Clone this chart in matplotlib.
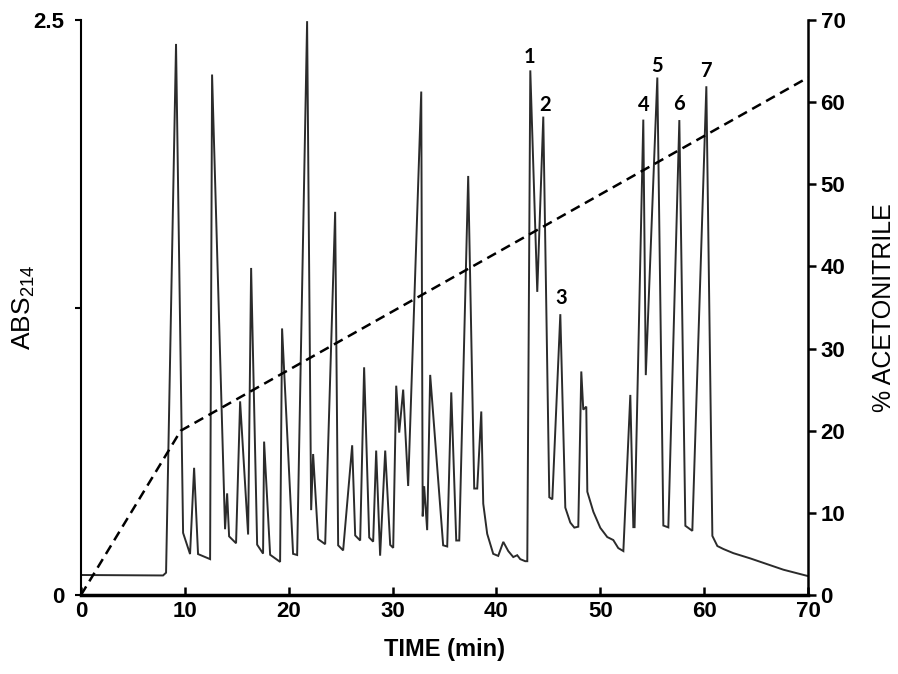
import matplotlib
matplotlib.use('Agg')
import matplotlib.pyplot as plt

plt.rcParams['font.family'] = ['Liberation Sans', 'DejaVu Sans']
plt.rcParams['mathtext.fontset'] = 'custom'
plt.rcParams['mathtext.rm'] = 'Liberation Sans'

# chromatogram trace (absorbance at 214 nm)
time_min = [0.00, 7.90, 8.19, 9.15, 9.83, 10.50, 10.89, 11.27, 12.43, 12.62,
            13.87, 14.07, 14.26, 14.93, 15.32, 16.09, 16.38, 16.96, 17.53, 17.63,
            18.21, 19.17, 19.36, 20.42, 20.81, 21.77, 22.16, 22.35, 22.83, 23.51,
            24.47, 24.76, 25.24, 26.11, 26.40, 26.88, 27.26, 27.75, 28.13, 28.42,
            28.80, 29.29, 29.77, 30.06, 30.35, 30.64, 31.02, 31.50, 32.76, 32.90,
            33.04, 33.33, 33.62, 34.87, 35.26, 35.65, 36.13, 36.42, 37.28, 37.86,
            38.15, 38.54, 38.73, 39.11, 39.69, 40.17, 40.66, 41.14, 41.62, 42.00,
            42.29, 42.77, 42.97, 43.26, 43.93, 44.51, 45.09, 45.38, 46.15, 46.63,
            47.11, 47.50, 47.88, 48.17, 48.36, 48.65, 48.75, 49.33, 50.00, 50.67,
            51.25, 51.73, 52.22, 52.89, 53.18, 53.30, 54.14, 54.38, 55.49, 56.07,
            56.55, 57.61, 58.19, 58.86, 60.21, 60.79, 61.27, 61.85, 62.81, 64.45,
            67.63, 69.94]
abs_214 = [0.087, 0.085, 0.097, 2.396, 0.270, 0.178, 0.553, 0.178, 0.156, 2.263,
           0.286, 0.442, 0.255, 0.225, 0.842, 0.263, 1.422, 0.219, 0.180, 0.667,
           0.175, 0.144, 1.159, 0.179, 0.174, 2.495, 0.369, 0.613, 0.243, 0.221,
           1.666, 0.216, 0.194, 0.651, 0.259, 0.237, 0.990, 0.250, 0.232, 0.628,
           0.171, 0.628, 0.218, 0.205, 0.910, 0.706, 0.893, 0.474, 2.189, 0.342,
           0.473, 0.282, 0.957, 0.216, 0.211, 0.881, 0.237, 0.237, 1.822, 0.463,
           0.463, 0.798, 0.397, 0.266, 0.179, 0.170, 0.231, 0.191, 0.165, 0.173,
           0.156, 0.147, 0.147, 2.281, 1.318, 2.080, 0.425, 0.416, 1.221, 0.380,
           0.315, 0.293, 0.297, 0.972, 0.806, 0.819, 0.449, 0.362, 0.292, 0.252,
           0.239, 0.204, 0.191, 0.870, 0.295, 0.295, 2.067, 0.956, 2.250, 0.302,
           0.294, 2.065, 0.301, 0.279, 2.212, 0.257, 0.213, 0.200, 0.182, 0.159,
           0.110, 0.083]

# acetonitrile gradient (right axis)
grad_time = [0, 9.6, 70]
grad_pct = [0, 20, 63]

# numbered peaks
peak_ids = ['1', '2', '3', '4', '5', '6', '7']
peak_t = [43.2, 44.7, 46.2, 54.2, 55.5, 57.6, 60.2]
peak_y = [2.34, 2.13, 1.29, 2.13, 2.30, 2.135, 2.28]

fig = plt.figure(figsize=(8.98, 6.74), dpi=100)
ax = fig.add_axes([0.0902, 0.1172, 0.8096, 0.8531])
ax2 = ax.twinx()

ax.plot(time_min, abs_214, color='#2b2b2b', lw=1.4, solid_joinstyle='miter')
ax2.plot(grad_time, grad_pct, color='black', lw=1.8, linestyle=(0, (4, 2.4)))

for lab, t, y in zip(peak_ids, peak_t, peak_y):
    ax.text(t, y, lab, ha='center', va='center', fontsize=14.5,
            fontweight='bold', family=['Lato', 'DejaVu Sans'])

ax.set_xlim(0, 70)
ax.set_ylim(0, 2.5)
ax2.set_ylim(0, 70)

# spines
ax.spines['top'].set_visible(False)
ax2.spines['top'].set_visible(False)
ax.spines['right'].set_visible(False)
ax2.spines['left'].set_visible(False)
ax2.spines['bottom'].set_visible(False)
ax.spines['bottom'].set_linewidth(2.5)
ax.spines['left'].set_linewidth(1.5)
ax2.spines['right'].set_linewidth(1.8)

ax.set_xticks([0, 10, 20, 30, 40, 50, 60, 70])
ax.set_yticks([0, 1.25, 2.5])
ax.set_yticklabels(['0', '', '2.5'])
ax2.set_yticks(range(0, 71, 10))

ax.tick_params(axis='x', direction='in', length=6, width=1.8, pad=4,
               labelsize=16)
ax.tick_params(axis='y', direction='out', length=4, width=1.5, pad=8,
               labelsize=16)
ax2.tick_params(axis='y', direction='out', length=6, width=1.8, pad=3,
                labelsize=16)
for lbl in ax.get_xticklabels() + ax.get_yticklabels() + ax2.get_yticklabels():
    lbl.set_fontweight('bold')

ax.set_xlabel('TIME (min)', fontsize=17, fontweight='bold')
ax.xaxis.set_label_coords(0.5, -0.074)
ax.set_ylabel(r'ABS$_\mathregular{214}$', fontsize=19)
ax.yaxis.set_label_coords(-0.061, 0.5)
ax2.set_ylabel('% ACETONITRILE', fontsize=18)
ax2.yaxis.set_label_coords(1.088, 0.5)

fig.savefig('out.png', dpi=100)
